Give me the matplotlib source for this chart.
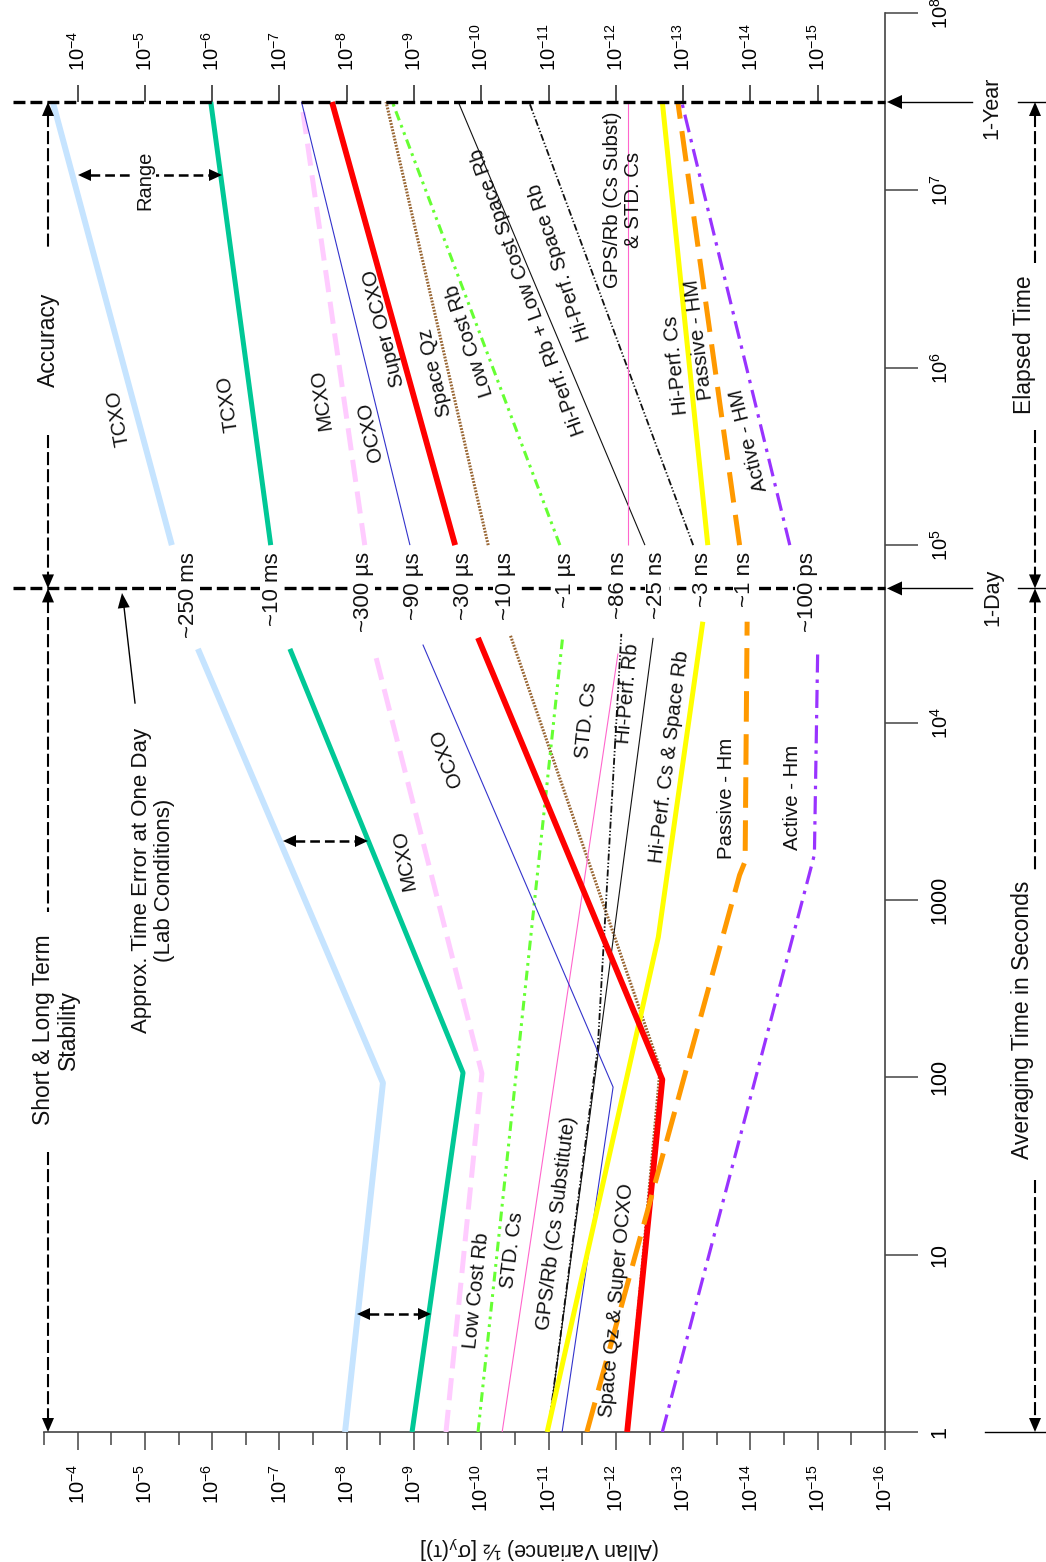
import numpy as np
import matplotlib
matplotlib.use("Agg")
import matplotlib.pyplot as plt
from matplotlib.patches import Polygon
from matplotlib.ticker import FixedLocator, FixedFormatter, NullLocator, NullFormatter

plt.rcParams["font.family"] = ["Liberation Sans", "DejaVu Sans"]
plt.rcParams["mathtext.fontset"] = "custom"
plt.rcParams["mathtext.rm"] = "Liberation Sans"
plt.rcParams["mathtext.it"] = "Liberation Sans:italic"
plt.rcParams["mathtext.bf"] = "Liberation Sans:bold"
plt.rcParams["lines.scale_dashes"] = False

# ---------------------------------------------------------------- axes values
sigma_ticks = [10.0 ** -k for k in range(4, 17)]
sigma_tick_labels = [r"$\mathregular{10^{-%d}}$" % k for k in range(4, 17)]
sigma_half_ticks = [10.0 ** -(k + 0.5) for k in range(3, 16)]
top_sigma_ticks = [10.0 ** -k for k in range(4, 16)]
top_sigma_labels = [r"$\mathregular{10^{-%d}}$" % k for k in range(4, 16)]
tau_ticks = [1, 10, 100, 1000, 1e4, 1e5, 1e6, 1e7, 1e8]
tau_tick_labels = ["1", "10", "100", "1000", r"$\mathregular{10^4}$",
                   r"$\mathregular{10^5}$", r"$\mathregular{10^6}$",
                   r"$\mathregular{10^7}$", r"$\mathregular{10^8}$"]

day_tau = 5.7e4      # "1-Day" divider
year_tau = 3.15e7    # "1-Year" divider

# ------------------------------------------- short & long term stability
stab_tau_tcxo_lo = [1, 93, 2.6e4]
stab_sig_tcxo_lo = [1.06e-8, 2.9e-9, 1.63e-6]
stab_tau_tcxo_hi = [1, 106, 2.6e4]
stab_sig_tcxo_hi = [1.07e-9, 1.87e-10, 7.0e-8]
stab_tau_mcxo = [1, 105, 2.45e4]
stab_sig_mcxo = [3.35e-10, 9.8e-11, 3.8e-9]
stab_tau_lcrb = [1, 3.0e4]
stab_sig_lcrb = [1.12e-10, 6.2e-12]
stab_tau_stdcs = [1, 2.45e4]
stab_sig_stdcs = [4.9e-11, 9.3e-13]
stab_tau_gpsrb = [1, 3.0e4]
stab_sig_gpsrb = [1.02e-11, 2.8e-13]
stab_tau_hprb = [1, 146, 3.16e4]
stab_sig_hprb = [1.02e-11, 1.86e-12, 8.3e-13]
stab_tau_ocxo = [1, 88, 2.75e4]
stab_sig_ocxo = [6.3e-12, 1.1e-12, 7.4e-10]
stab_tau_hpcs = [1, 617, 3.7e4]
stab_sig_hpcs = [1.05e-11, 2.34e-13, 5.1e-14]
stab_tau_spqz = [1, 112, 3.1e4]
stab_sig_spqz = [6.8e-13, 2.2e-13, 3.7e-11]
stab_tau_socxo = [1, 97, 3.0e4]
stab_sig_socxo = [6.8e-13, 2.04e-13, 1.12e-10]
stab_tau_phm = [1, 1380, 1650, 3.7e4]
stab_sig_phm = [2.7e-12, 1.45e-14, 1.2e-14, 1.12e-14]
stab_tau_ahm = [1, 1450, 1800, 2.6e4]
stab_sig_ahm = [2.04e-13, 1.3e-15, 1.12e-15, 1.0e-15]

# ------------------------------------------------------ accuracy (1 day .. 1 year)
acc_tau = [1e5, 3.15e7]
acc_sig_tcxo_lo = [3.98e-6, 2.34e-4]
acc_sig_tcxo_hi = [1.35e-7, 1.05e-6]
acc_sig_mcxo = [5.4e-9, 4.7e-8]
acc_sig_ocxo = [1.15e-9, 4.7e-8]
acc_sig_socxo = [2.45e-10, 1.66e-8]
acc_sig_spqz = [7.9e-11, 2.6e-9]
acc_sig_lcrb = [6.8e-12, 2.1e-9]
acc_sig_hprb_lcsrb = [3.7e-13, 2.2e-10]
acc_sig_hpsrb = [7.1e-14, 1.95e-11]
acc_sig_gps_stdcs = [6.6e-13, 6.6e-13]
acc_sig_hpcs = [4.3e-14, 2.04e-13]
acc_sig_phm = [1.45e-14, 1.2e-13]
acc_sig_ahm = [2.6e-15, 1.05e-13]

# time error after one day
time_error_labels = ["~250 ms", "~10 ms", "~300 µs", "~90 µs", "~30 µs", "~10 µs",
                     "~1 µs", "~86 ns", "~25 ns", "~3 ns", "~1 ns", "~100 ps"]
time_error_x = [188, 272, 363, 413, 463, 505, 565, 618, 657, 702, 745, 807]

# ---------------------------------------------------------------- styles
ST = {
    "tcxo_lo": dict(color="#C6E4FF", lw=4.3),
    "tcxo_hi": dict(color="#00C896", lw=3.6),
    "mcxo": dict(color="#FFCCFF", lw=3.6, dashes=(16, 7)),
    "ocxo": dict(color="#3333CC", lw=0.8),
    "socxo": dict(color="#FF0000", lw=4.2),
    "spqz": dict(color="#996633", lw=2.2, dashes=(1.3, 1.0)),
    "lcrb": dict(color="#66FF33", lw=2.2, dashes=(7, 3.6, 2, 3.6, 2, 3.6)),
    "stdcs": dict(color="#FF66CC", lw=0.8),
    "blk": dict(color="#111111", lw=0.8),
    "blkdd": dict(color="#111111", lw=1.3, dashes=(5, 1.5, 1, 1.5, 1, 1.5)),
    "hpcs": dict(color="#FFFF00", lw=3.6),
    "phm": dict(color="#FF9900", lw=3.6, dashes=(22, 9)),
    "ahm": dict(color="#9933FF", lw=2.3, dashes=(13, 5, 2.5, 5)),
}

W, H = 1046, 1562
fig = plt.figure(figsize=(W / 100, H / 100), dpi=100)
ax = fig.add_axes([44 / W, 130 / H, 841 / W, 1419 / H])
ax.set_xscale("log")
ax.set_yscale("log")
ax.set_xlim(10 ** -3.5, 1e-16)
ax.set_ylim(1, 1e8)


def curve(tau, sig, key, z=3):
    st = dict(ST[key])
    dashes = st.pop("dashes", None)
    ln, = ax.plot(sig, tau, solid_capstyle="butt", dash_capstyle="butt",
                  solid_joinstyle="round", zorder=z, **st)
    if dashes:
        ln.set_dashes(dashes)


# stability section
curve(stab_tau_tcxo_lo, stab_sig_tcxo_lo, "tcxo_lo")
curve(stab_tau_tcxo_hi, stab_sig_tcxo_hi, "tcxo_hi")
curve(stab_tau_mcxo, stab_sig_mcxo, "mcxo")
curve(stab_tau_lcrb, stab_sig_lcrb, "lcrb")
curve(stab_tau_stdcs, stab_sig_stdcs, "stdcs")
curve(stab_tau_gpsrb, stab_sig_gpsrb, "blk")
curve(stab_tau_hprb, stab_sig_hprb, "blkdd")
curve(stab_tau_ocxo, stab_sig_ocxo, "ocxo")
curve(stab_tau_spqz, stab_sig_spqz, "spqz", z=2)
curve(stab_tau_hpcs, stab_sig_hpcs, "hpcs")
curve(stab_tau_socxo, stab_sig_socxo, "socxo")
curve(stab_tau_phm, stab_sig_phm, "phm")
curve(stab_tau_ahm, stab_sig_ahm, "ahm")

# accuracy section
curve(acc_tau, acc_sig_tcxo_lo, "tcxo_lo")
curve(acc_tau, acc_sig_tcxo_hi, "tcxo_hi")
curve(acc_tau, acc_sig_mcxo, "mcxo")
curve(acc_tau, acc_sig_ocxo, "ocxo")
curve(acc_tau, acc_sig_socxo, "socxo")
curve(acc_tau, acc_sig_spqz, "spqz")
curve(acc_tau, acc_sig_lcrb, "lcrb")
curve(acc_tau, acc_sig_hprb_lcsrb, "blk")
curve(acc_tau, acc_sig_hpsrb, "blkdd")
curve(acc_tau, acc_sig_gps_stdcs, "stdcs")
curve(acc_tau, acc_sig_hpcs, "hpcs")
curve(acc_tau, acc_sig_phm, "phm")
curve(acc_tau, acc_sig_ahm, "ahm")

# ---------------------------------------------------------------- axes
for s in ("left", "top"):
    ax.spines[s].set_visible(False)
for s in ("bottom", "right"):
    ax.spines[s].set_color("#444444")
    ax.spines[s].set_linewidth(1.2)

ax.xaxis.set_major_locator(FixedLocator(sigma_ticks))
ax.xaxis.set_major_formatter(FixedFormatter(sigma_tick_labels))
ax.xaxis.set_minor_locator(FixedLocator(sigma_half_ticks))
ax.xaxis.set_minor_formatter(NullFormatter())
ax.tick_params(axis="x", which="major", direction="out", length=13, width=1.1,
               color="#444444", labelsize=14.5, pad=10, labelrotation=90)
ax.tick_params(axis="x", which="minor", direction="out", length=9.5, width=1.1,
               color="#444444")

ax.yaxis.tick_right()
ax.yaxis.set_major_locator(FixedLocator(tau_ticks))
ax.yaxis.set_major_formatter(FixedFormatter(tau_tick_labels))
ax.yaxis.set_minor_locator(NullLocator())
ax.tick_params(axis="y", which="major", direction="out", length=24, width=1.1,
               color="#444444", labelsize=15.5, pad=8, labelrotation=90)
for t, s in zip(ax.get_yticklabels(), tau_tick_labels):
    t.set_va("center")
    if s.startswith("$"):
        t.set_fontsize(14.5)

secax = ax.secondary_xaxis(np.log10(year_tau) / 8.0)
secax.xaxis.set_major_locator(FixedLocator(top_sigma_ticks))
secax.xaxis.set_major_formatter(FixedFormatter(top_sigma_labels))
secax.xaxis.set_minor_locator(NullLocator())
secax.tick_params(axis="x", which="major", direction="out", length=12, width=1.1,
                  color="#222222", labelsize=14.5, pad=10, labelrotation=90)
for sp in secax.spines.values():
    sp.set_visible(False)

# ---------------------------------------------------------------- overlay in pixel units
ov = fig.add_axes([0, 0, 1, 1], zorder=5)
ov.set_xlim(0, W)
ov.set_ylim(H, 0)
ov.axis("off")


def to_px(sig, tau):
    return ov.transData.inverted().transform(ax.transData.transform((sig, tau)))


y_year = to_px(1e-10, year_tau)[1]
y_day = to_px(1e-10, day_tau)[1]
y_bot = to_px(1e-10, 1)[1]
x_right = to_px(1e-16, 1)[0]


def head(x, y, ux, uy, size=14, width=12, z=7):
    n = np.hypot(ux, uy)
    ux, uy = ux / n, uy / n
    bx, by = x - ux * size, y - uy * size
    px, py = -uy, ux
    pts = [(x, y), (bx + px * width / 2, by + py * width / 2),
           (bx - px * width / 2, by - py * width / 2)]
    ov.add_patch(Polygon(pts, closed=True, facecolor="k", edgecolor="none", zorder=z))


def dashed(xs, ys, lw=1.5, dashes=(9.4, 2.9), z=3):
    ln, = ov.plot(xs, ys, color="k", lw=lw, zorder=z, solid_capstyle="butt")
    ln.set_dashes(dashes)


def txt(x, y, s, rot=90, size=14.7, **kw):
    ov.text(x, y, s, rotation=rot, rotation_mode="anchor", ha=kw.pop("ha", "center"),
            va=kw.pop("va", "center"), fontsize=size, color="#111111", zorder=6, **kw)


# 1-year / 1-day dividers
for yy in (y_year, y_day):
    dashed([13, x_right], [yy, yy], lw=2.4, dashes=(8.6, 3.6), z=2)
    ov.plot([x_right + 12, 972], [yy, yy], color="k", lw=1.0, zorder=3)
    head(x_right + 2, yy, -1, 0, size=15, width=14)

txt(992, y_year + 6, "1-Year", size=15.5)
txt(993, y_day + 9, "1-Day", size=15.5)

# time errors at one day
for s, x in zip(time_error_labels, time_error_x):
    ov.text(x, 552, s, rotation=90, rotation_mode="anchor", ha="right", va="center",
            fontsize=16, color="#111111", zorder=6,
            bbox=dict(facecolor="white", edgecolor="none", pad=1.0))

# left side brackets
xa = 48
head(xa, y_year, 0, -1)
dashed([xa, xa], [y_year + 12, 247])
txt(xa, 340, "Accuracy", size=16.5)
dashed([xa, xa], [435, y_day - 12])
head(xa, y_day, 0, 1)
head(xa, y_day, 0, -1)
dashed([xa, xa], [y_day + 12, 912])
txt(56, 1030, "Short & Long Term\nStability", size=16.5, multialignment="center",
    linespacing=1.15)
dashed([xa, xa], [1152, y_bot - 12])
head(xa, y_bot, 0, 1)

# right side brackets
xr = 1035
for yy, x0 in ((y_year, 1018), (y_day, 1018), (y_bot, 985)):
    ov.plot([x0, W], [yy, yy], color="k", lw=1.0, zorder=3)
head(xr, y_year, 0, -1)
dashed([xr, xr], [y_year + 12, 263])
txt(1025, 345, "Elapsed Time", size=16.5)
dashed([xr, xr], [430, y_day - 12])
head(xr, y_day, 0, 1)
head(xr, y_day, 0, -1)
dashed([xr, xr], [y_day + 12, 870])
txt(1023, 1020, "Averaging Time in Seconds", size=16.5)
dashed([xr, xr], [1180, y_bot - 12])
head(xr, y_bot, 0, 1)

# range arrows
dashed([90, 210], [175, 175], lw=1.8, dashes=(7, 3.6))
head(78, 175, -1, 0, size=13, width=12)
head(222, 175, 1, 0, size=13, width=12)
txt(145, 180, "Range", size=14.5, bbox=dict(facecolor="white", edgecolor="none", pad=1.0))
for yy, x0, x1 in ((841, 283, 368), (1314, 357, 431)):
    dashed([x0 + 12, x1 - 12], [yy, yy], lw=1.8, dashes=(7, 3.6))
    head(x0, yy, -1, 0, size=13, width=12)
    head(x1, yy, 1, 0, size=13, width=12)

# time-error pointer
ov.plot([135, 124], [703, 607], color="k", lw=1.0, zorder=3)
head(122, 593, -13, -110, size=15, width=12)
txt(153, 880, "Approx. Time Error at One Day\n(Lab Conditions)", size=16,
    multialignment="center", linespacing=1.15)

# curve labels, accuracy part
txt(118, 418, "TCXO", rot=100)
txt(228, 404, "TCXO", rot=98)
txt(322, 400, "MCXO", rot=98)
txt(370, 432, "OCXO", rot=102)
txt(384, 328, "Super OCXO", rot=104)
txt(436, 372, "Space Qz", rot=103)
txt(470, 340, "Low Cost Rb", rot=108)
txt(528, 292, "Hi-Perf. Rb + Low Cost Space Rb", rot=110)
txt(560, 262, "Hi-Perf. Space Rb", rot=108)
txt(623, 200, "GPS/Rb (Cs Subst)\n& STD. Cs", rot=90, multialignment="center",
    linespacing=1.1)
txt(676, 365, "Hi-Perf. Cs", rot=96)
txt(699, 340, "Passive - HM", rot=97)
txt(749, 440, "Active - HM", rot=104)

# curve labels, stability part
txt(405, 860, "MCXO", rot=100)
txt(447, 758, "OCXO", rot=110)
txt(587, 720, "STD. Cs", rot=84)
txt(628, 693, "Hi-Perf. Rb", rot=85)
txt(670, 757, "Hi-Perf. Cs & Space Rb", rot=83)
txt(727, 798, "Passive - Hm", rot=90)
txt(793, 797, "Active - Hm", rot=90)
txt(477, 1290, "Low Cost Rb", rot=84)
txt(512, 1250, "STD. Cs", rot=83)
txt(557, 1223, "GPS/Rb (Cs Substitute)", rot=83)
txt(617, 1300, "Space Qz & Super OCXO", rot=85)

# axis title, set upside down under the sigma axis
txt(540, 1547, r"(Allan Variance) ½ [$\mathregular{σ_y(τ)}$]", rot=180, size=15.5)

fig.savefig("out.png", dpi=100)
